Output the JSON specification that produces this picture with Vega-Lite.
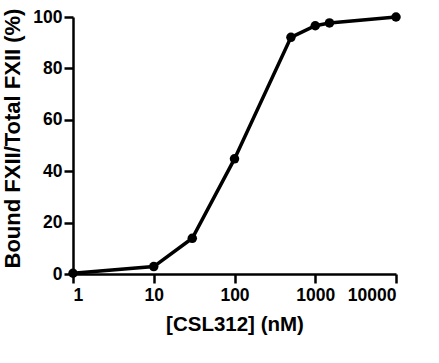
{
  "$schema": "https://vega.github.io/schema/vega-lite/v6.json",
  "autosize": {"type": "none"},
  "width": 323,
  "height": 257,
  "padding": {"left": 73, "top": 17, "right": 43, "bottom": 89},
  "background": "white",
  "data": {"values": [
    {"conc": 1, "bound": 0.3},
    {"conc": 10, "bound": 2.9},
    {"conc": 30, "bound": 13.9},
    {"conc": 100, "bound": 44.8},
    {"conc": 500, "bound": 92.1},
    {"conc": 1000, "bound": 96.6},
    {"conc": 1500, "bound": 97.7},
    {"conc": 10000, "bound": 100}
  ]},
  "config": {
    "view": {"stroke": null},
    "axis": {
      "domainColor": "black", "domainWidth": 2.5,
      "tickColor": "black", "tickWidth": 2.5, "tickSize": 9,
      "labelColor": "black", "labelFont": "Liberation Sans", "labelFontWeight": "bold", "labelFontSize": 17.5,
      "titleColor": "black", "titleFont": "Liberation Sans", "titleFontWeight": "bold", "titleFontSize": 20.5,
      "grid": false
    }
  },
  "encoding": {
    "x": {"field": "conc", "type": "quantitative",
      "scale": {"type": "log", "domain": [1, 10000], "nice": false},
      "axis": {"values": [1, 10, 100, 1000, 10000], "format": "d", "title": "[CSL312] (nM)", "labelPadding": 3, "titlePadding": 11}},
    "y": {"field": "bound", "type": "quantitative",
      "scale": {"domain": [0, 100], "nice": false, "zero": true},
      "axis": {"values": [0, 20, 40, 60, 80, 100], "title": "Bound FXII/Total FXII (%)", "titleFontSize": 22, "labelPadding": 2, "titlePadding": 8, "titleY": 121}}
  },
  "layer": [
    {"mark": {"type": "line", "color": "black", "strokeWidth": 3.5, "clip": false}},
    {"mark": {"type": "point", "filled": true, "color": "black", "opacity": 1, "size": 90, "clip": false}}
  ]
}
